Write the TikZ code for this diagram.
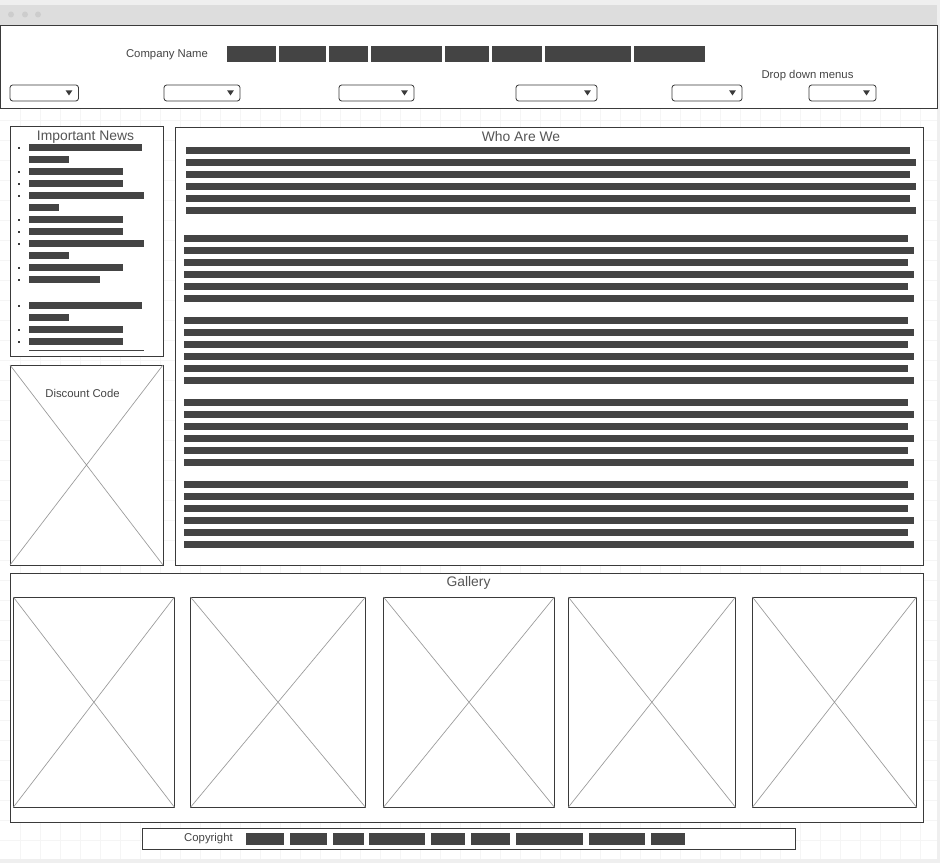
\documentclass[tikz,border=0pt]{standalone}
\usepackage{fontspec}
\setmainfont{Liberation Sans}
\definecolor{ink}{HTML}{3A3A3A}
\definecolor{barfill}{HTML}{444444}
\definecolor{crossline}{HTML}{9A9A9A}
\definecolor{chrome}{HTML}{DDDDDD}
\definecolor{chromedot}{HTML}{CDCDCD}
\definecolor{pagebg}{HTML}{EFEFEF}
\definecolor{gridline}{HTML}{F5F5F5}
\definecolor{labeltext}{HTML}{444444}
\definecolor{headtext}{HTML}{555555}

% wireframe image placeholder: frame with two diagonals
\newcommand\wfimage[4]{%
  \draw[frame] (#1,#2) rectangle (#3,#4);
  \draw[cross] (#1,#2) -- (#3,#4) (#1,#4) -- (#3,#2);}

\begin{document}
\begin{tikzpicture}[x=0.75pt,y=-0.75pt,
  frame/.style={draw=ink,line width=0.6pt,fill=white},
  bar/.style={fill=barfill},
  cross/.style={draw=crossline,line width=0.5pt},
  small/.style={font=\fontsize{8.5}{10}\selectfont,text=labeltext,inner sep=0pt},
  heading/.style={font=\fontsize{10.4}{12}\selectfont,text=headtext,inner sep=0pt},
  menubox/.style={draw=ink,line width=0.6pt,rounded corners=2pt,fill=white}]
\useasboundingbox (0,0) rectangle (940,863);

% page and browser window
\fill[pagebg] (0,0) rectangle (940,863);
\fill[white] (0,5) rectangle (937,859);
\foreach \gx in {20,40,...,920} \draw[gridline,line width=0.5pt] (\gx,25) -- (\gx,859);
\foreach \gy in {40,60,...,840} \draw[gridline,line width=0.5pt] (0,\gy) -- (937,\gy);
\fill[chrome] (0,5) rectangle (937,25);
\foreach \dx in {11,25,38} \fill[chromedot] (\dx,14.5) circle (3);

% header
\draw[frame] (0,25) rectangle (937,108);
\node[small] (company) at (167,54.5) {Company Name};
\foreach \a/\b in {227/276,279/326,329/368,371/442,445/489,492/542,545/631,634/705}
  \fill[bar] (\a,46) rectangle (\b,62);
\node[small] (menus) at (807.5,75.5) {Drop down menus};
\foreach \a/\b in {10/78.5,164/240,339/414,516/597,672/742,809/876} {
  \draw[menubox] (\a,85) rectangle (\b,101);
  \fill[ink] (\b-12.8,90.5) -- (\b-6.2,90.5) -- (\b-9.5,95.5) -- cycle;
}

% important news
\draw[frame] (10,126) rectangle (163,356);
\node[heading] (news) at (85.5,137) {Important News};
\foreach \y/\r/\bl in {144.5/142/1,156.5/69/0,168.5/123/1,180.5/123/1,192.5/144/1,204.5/59/0,
    216.5/123/1,228.5/123/1,240.5/144/1,252.5/69/0,264.5/123/1,276.5/100/1,
    302.5/142/1,314.5/69/0,326.5/123/1,338.5/123/1} {
  \fill[bar] (29,\y) rectangle (\r,\y+6.3);
  \ifnum\bl=1 \fill[ink] (18.2,\y+2.3) rectangle (20,\y+4.1); \fi
}
\fill[bar] (29,349.6) rectangle (144,351.2);

% discount code
\wfimage{10}{365}{163}{565}
\node[small] (discount) at (82.5,393.5) {Discount Code};

% who are we
\draw[frame] (175,127) rectangle (923,565);
\node[heading] (who) at (521,137) {Who Are We};
\foreach \top/\l/\ra/\rb in {147.3/186/910/916,235/184/908/914,317/184/908/914,399/184/908/914,481/184/908/914} {
  \foreach \k in {0,2,4} \fill[bar] (\l,\top+12*\k) rectangle (\ra,\top+12*\k+6.6);
  \foreach \k in {1,3,5} \fill[bar] (\l,\top+12*\k) rectangle (\rb,\top+12*\k+6.6);
}

% gallery
\draw[frame] (10,573) rectangle (923,822);
\node[heading] (gallery) at (468.5,583) {Gallery};
\wfimage{13.3}{597}{174.5}{807.3}
\wfimage{190.5}{597}{365.5}{807.3}
\wfimage{383.5}{597}{554.5}{807.3}
\wfimage{568.3}{597}{735.5}{807.3}
\wfimage{752.4}{597}{916.5}{807.3}

% footer
\draw[frame] (142.5,828) rectangle (795.5,849);
\node[small] (copyright) at (208.5,839) {Copyright};
\foreach \a/\b in {246/284,290/327,333/364,369/425,431/465,471/510,516/583,589/645,651/685}
  \fill[bar] (\a,833) rectangle (\b,845);
\end{tikzpicture}
\end{document}
